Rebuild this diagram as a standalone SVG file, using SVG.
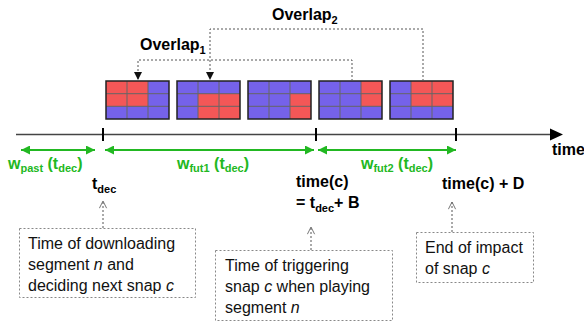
<svg xmlns="http://www.w3.org/2000/svg" width="584" height="324" viewBox="0 0 584 324">
<style>
text{font-family:"Liberation Sans",Arial,sans-serif;}
.b{font-weight:bold;font-size:16px;fill:#000;}
.g{font-weight:bold;font-size:16px;fill:#22B822;}
.s{font-size:11px;}
.n{font-size:16px;fill:#111;}
.bl{fill:#7562EA;}
.rd{fill:#F45757;}
.grid{stroke:#666;stroke-width:1;fill:none;}
.frame{stroke:#222;stroke-width:1.5;fill:none;}
.dot{stroke:#555;stroke-width:1;stroke-dasharray:2,2;fill:none;}
.box{stroke:#888;stroke-width:1;stroke-dasharray:2,2;fill:#fff;}
.gl{stroke:#22B822;stroke-width:2;fill:none;}
</style>
<defs>
<marker id="ga" viewBox="0 0 10 10" refX="10" refY="5" markerWidth="4.5" markerHeight="4.5" orient="auto-start-reverse" markerUnits="strokeWidth">
<path d="M0,0 L10,5 L0,10 z" fill="#22B822"/>
</marker>
<marker id="ka" viewBox="0 0 10 10" refX="10" refY="5" markerWidth="8" markerHeight="8" orient="auto" markerUnits="userSpaceOnUse">
<path d="M0,0 L10,5 L0,10 z" fill="#111"/>
</marker>
<marker id="oa" viewBox="0 0 10 10" refX="9" refY="5" markerWidth="9" markerHeight="9" orient="auto" markerUnits="userSpaceOnUse">
<path d="M1,1 L9,5 L1,9" fill="none" stroke="#666" stroke-width="1"/>
</marker>
<g id="gridcells">
<path class="grid" d="M21,0V38M42,0V38M0,12.7H63M0,25.3H63"/>
<rect class="frame" x="0" y="0" width="63" height="38"/>
</g>
</defs>

<g id="tile1" transform="translate(106,81)">
<rect class="bl" width="63" height="38"/>
<rect class="rd" x="0" y="0" width="42" height="25.3"/>
<use href="#gridcells"/>
</g>
<g id="tile2" transform="translate(177,81)">
<rect class="bl" width="63" height="38"/>
<rect class="rd" x="21" y="12.7" width="42" height="25.3"/>
<use href="#gridcells"/>
</g>
<g id="tile3" transform="translate(248,81)">
<rect class="bl" width="63" height="38"/>
<rect class="rd" x="42" y="12.7" width="21" height="25.3"/>
<use href="#gridcells"/>
</g>
<g id="tile4" transform="translate(319,81)">
<rect class="bl" width="63" height="38"/>
<rect class="rd" x="42" y="0" width="21" height="25.3"/>
<use href="#gridcells"/>
</g>
<g id="tile5" transform="translate(390,81)">
<rect class="bl" width="63" height="38"/>
<rect class="rd" x="21" y="0" width="42" height="25.3"/>
<use href="#gridcells"/>
</g>

<g id="connectors">
<path class="dot" d="M352,81V60H138V80" marker-end="url(#ka)"/>
<path class="dot" d="M423,81V29H210V80" marker-end="url(#ka)"/>
<line x1="16" y1="134.5" x2="552" y2="134.5" stroke="#444" stroke-width="1.5"/>
<path d="M550,128.5 L563,134.5 L550,140.5 z" fill="#000"/>
<path d="M103,128V141M316,128V141M456,128V141" stroke="#000" stroke-width="2"/>
<line class="gl" x1="21" y1="150" x2="95" y2="150" marker-start="url(#ga)" marker-end="url(#ga)"/>
<line class="gl" x1="105" y1="150" x2="314" y2="150" marker-start="url(#ga)" marker-end="url(#ga)"/>
<line class="gl" x1="318" y1="150" x2="456" y2="150" marker-start="url(#ga)" marker-end="url(#ga)"/>
<line class="dot" stroke="#777" x1="103" y1="228" x2="103" y2="201" marker-end="url(#oa)"/>
<line class="dot" stroke="#777" x1="311" y1="250" x2="311" y2="227" marker-end="url(#oa)"/>
<line class="dot" stroke="#777" x1="452" y1="232" x2="452" y2="202" marker-end="url(#oa)"/>
</g>

<g id="labels">
<text class="b" x="140" y="50">Overlap<tspan class="s" dy="4">1</tspan></text>
<text class="b" x="272" y="20">Overlap<tspan class="s" dy="4">2</tspan></text>
<text class="b" x="552" y="155">time</text>
<text class="g" x="8" y="169">w<tspan class="s" dy="3">past</tspan><tspan dy="-3"> (t</tspan><tspan class="s" dy="3">dec</tspan><tspan dy="-3">)</tspan></text>
<text class="g" x="177" y="169">w<tspan class="s" dy="3">fut1</tspan><tspan dy="-3"> (t</tspan><tspan class="s" dy="3">dec</tspan><tspan dy="-3">)</tspan></text>
<text class="g" x="361" y="169">w<tspan class="s" dy="3">fut2</tspan><tspan dy="-3"> (t</tspan><tspan class="s" dy="3">dec</tspan><tspan dy="-3">)</tspan></text>
<text class="b" x="92" y="189">t<tspan class="s" dy="4">dec</tspan></text>
<text class="b" x="296" y="187">time(c)</text>
<text class="b" x="296" y="208">= t<tspan class="s" dy="4">dec</tspan><tspan dy="-4">+ B</tspan></text>
<text class="b" x="442" y="189">time(c) + D</text>
</g>

<g id="box1">
<rect class="box" x="19.5" y="228.5" width="176" height="69"/>
<text class="n" x="28" y="249">Time of downloading</text>
<text class="n" x="28" y="270">segment <tspan font-style="italic">n</tspan> and</text>
<text class="n" x="28" y="291">deciding next snap <tspan font-style="italic">c</tspan></text>
</g>
<g id="box2">
<rect class="box" x="215.5" y="250.5" width="177" height="70"/>
<text class="n" x="225" y="271">Time of triggering</text>
<text class="n" x="225" y="292">snap <tspan font-style="italic">c</tspan> when playing</text>
<text class="n" x="225" y="313">segment <tspan font-style="italic">n</tspan></text>
</g>
<g id="box3">
<rect class="box" x="416.5" y="232.5" width="117" height="50"/>
<text class="n" x="425" y="253">End of impact</text>
<text class="n" x="425" y="274">of snap <tspan font-style="italic">c</tspan></text>
</g>
</svg>
